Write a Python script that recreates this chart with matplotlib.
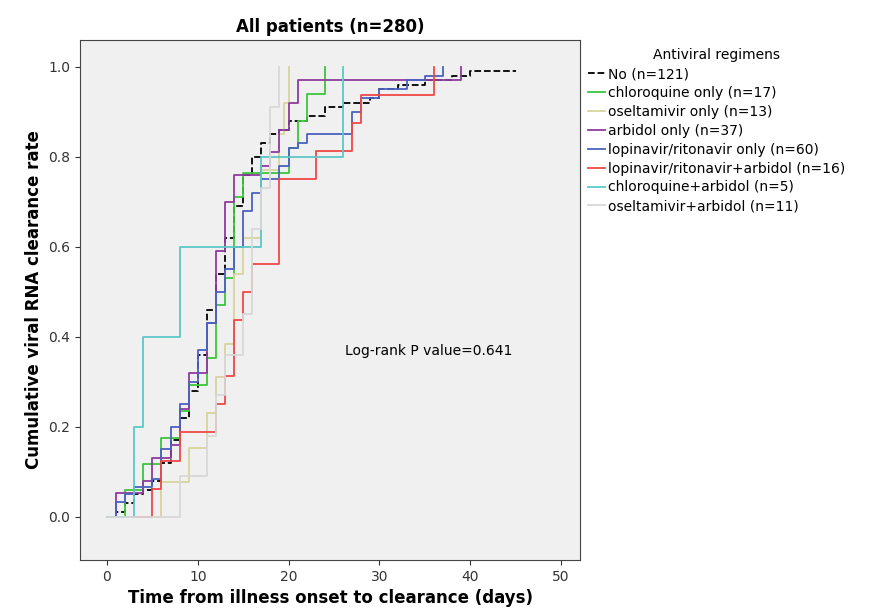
import matplotlib
matplotlib.use("Agg")
import matplotlib.pyplot as plt

# step curves: (days, cumulative clearance rate)
no_t = [1, 2, 3, 4, 5, 6, 7, 8, 9, 10, 11, 12, 13, 14, 15, 16, 17, 18, 19, 20, 22, 24, 26, 29, 30, 32, 35, 38, 40, 45]
no_v = [.01, .03, .05, .06, .08, .12, .17, .22, .28, .36, .46, .54, .62, .69, .76, .80, .83, .85, .86, .88, .89, .91, .92, .93, .95, .96, .97, .98, .99, .99]
cq_t = [2, 4, 6, 8, 9, 11, 12, 13, 14, 15, 20, 21, 22, 24]
cq_v = [.059, .118, .176, .235, .294, .353, .47, .53, .71, .765, .82, .88, .94, 1.0]
os_t = [6, 9, 11, 12, 13, 14, 15, 17, 19, 19.5, 20]
os_v = [.077, .154, .23, .31, .385, .54, .62, .77, .85, .92, 1.0]
ab_t = [1, 4, 5, 7, 8, 9, 11, 12, 13, 14, 17, 18, 19, 20, 21, 39]
ab_v = [.054, .08, .13, .16, .24, .32, .43, .59, .70, .76, .78, .81, .86, .92, .97, 1.0]
lr_t = [1, 2, 3, 5, 6, 7, 8, 9, 10, 11, 12, 13, 14, 15, 16, 17, 19, 20, 21, 22, 27, 28, 30, 33, 35, 37]
lr_v = [.033, .05, .067, .083, .15, .2, .25, .3, .37, .43, .5, .55, .6, .68, .72, .75, .78, .82, .83, .85, .9, .93, .95, .97, .98, 1.0]
lra_t = [5, 6, 8, 12, 13, 14, 15, 16, 19, 23, 27, 28, 36]
lra_v = [.0625, .125, .1875, .25, .3125, .4375, .5, .5625, .75, .8125, .875, .9375, 1.0]
cqa_t = [3, 4, 8, 17, 26]
cqa_v = [.2, .4, .6, .8, 1.0]
osa_t = [8, 11, 12, 13, 15, 16, 17, 18, 19]
osa_v = [.091, .18, .27, .36, .45, .64, .73, .91, 1.0]

series = [
    ("No (n=121)", no_t, no_v, "black", "--"),
    ("chloroquine only (n=17)", cq_t, cq_v, "#3cc63c", "-"),
    ("oseltamivir only (n=13)", os_t, os_v, "#d8d49a", "-"),
    ("arbidol only (n=37)", ab_t, ab_v, "#8e3c9e", "-"),
    ("lopinavir/ritonavir only (n=60)", lr_t, lr_v, "#4a62c0", "-"),
    ("lopinavir/ritonavir+arbidol (n=16)", lra_t, lra_v, "#f04848", "-"),
    ("chloroquine+arbidol (n=5)", cqa_t, cqa_v, "#5cc8c8", "-"),
    ("oseltamivir+arbidol (n=11)", osa_t, osa_v, "#d8d8d8", "-"),
]

fig = plt.figure(figsize=(8.86, 6.14), dpi=100)
ax = fig.add_axes([80 / 886, 1 - 560 / 614, 500 / 886, 520 / 614])
ax.set_facecolor("#f0f0f0")
fig.patch.set_facecolor("white")

for name, t, v, c, ls in series:
    ax.step([0] + t, [0] + v, where="post", color=c, ls=ls, lw=1.3, label=name)

ax.set_xlim(-2.97, 52.1)
ax.set_ylim(-0.096, 1.06)
ax.set_xticks([0, 10, 20, 30, 40, 50])
ax.set_yticks([0, .2, .4, .6, .8, 1.0])
ax.set_yticklabels(["0.0", "0.2", "0.4", "0.6", "0.8", "1.0"])
ax.tick_params(labelsize=10, colors="#333333")
for s in ax.spines.values():
    s.set_color("#444444")

ax.set_title("All patients (n=280)", fontsize=12, fontweight="bold")
ax.set_xlabel("Time from illness onset to clearance (days)", fontsize=12, fontweight="bold")
ax.set_ylabel("Cumulative viral RNA clearance rate", fontsize=12, fontweight="bold")
ax.text(26.2, 0.36, "Log-rank P value=0.641", fontsize=10)

leg = ax.legend(loc="upper left", bbox_to_anchor=(1.0, 1.0), frameon=False,
                title="Antiviral regimens", fontsize=10, handlelength=1.2,
                handletextpad=0.2, borderaxespad=0.2, labelspacing=0.35)
leg.get_title().set_fontsize(10)

fig.savefig("out.png", dpi=100)
